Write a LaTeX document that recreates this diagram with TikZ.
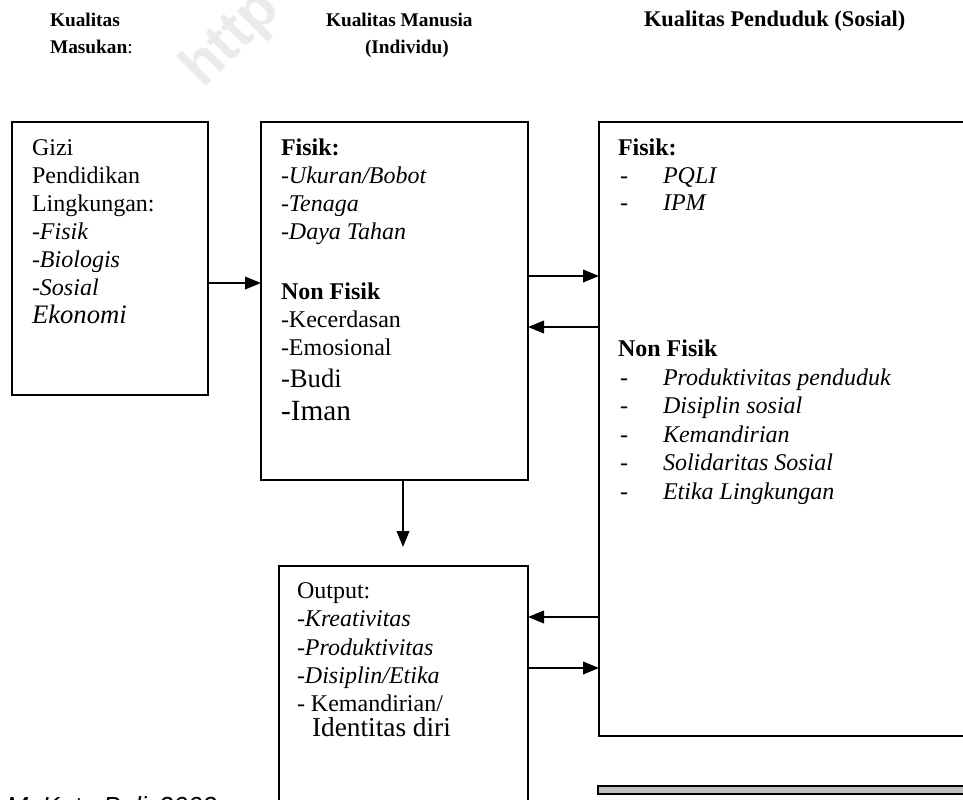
\documentclass[tikz,border=0pt]{standalone}
\usepackage{fontspec}
\setmainfont{Liberation Serif}
\newfontfamily\arialf{Liberation Sans}
\usetikzlibrary{arrows.meta}
\begin{document}
\begin{tikzpicture}[x=0.75pt,y=-0.75pt,
  box/.style={draw, line width=1.3pt, inner sep=0pt, outer sep=0pt, anchor=center},
  conn/.style={line width=1.2pt, -{Triangle[length=12pt,width=9.5pt]}},
  txt/.style={anchor=base west, inner sep=0pt, outer sep=0pt, font=\fontsize{18pt}{21pt}\selectfont},
  hdr/.style={anchor=base west, inner sep=0pt, outer sep=0pt, font=\fontsize{14.5pt}{17pt}\selectfont\bfseries},
  big/.style={txt, font=\fontsize{20pt}{23pt}\selectfont},
]
\useasboundingbox (0,0) rectangle (963,799);
\clip (0,0) rectangle (963,799);

% watermark
\node[anchor=base west, inner sep=0pt, rotate=45, text=black!8,
      font=\arialf\bfseries\fontsize{44pt}{50pt}\selectfont] (wm) at (203,90) {http};

% headers
\node[hdr] (h1a) at (50,26.5) {Kualitas};
\node[hdr] (h1b) at (50,54) {Masukan\textmd{:}};
\node[hdr] (h2a) at (326,26.5) {Kualitas Manusia};
\node[hdr] (h2b) at (365,54) {(Individu)};
\node[hdr, font=\fontsize{16.8pt}{19pt}\selectfont\bfseries] (h3) at (644,27) {Kualitas Penduduk (Sosial)};

% boxes
\node[box, minimum width=147pt, minimum height=204.75pt] (b1) at (110,258.5) {};
\node[box, minimum width=200.25pt, minimum height=268.5pt] (b2) at (394.5,301) {};
\node[box, minimum width=300.75pt, minimum height=460.5pt] (b3) at (799.5,429) {};
\node[box, minimum width=186.75pt, minimum height=205.5pt] (b4) at (403.5,703) {};
\node[box, line width=1.1pt, fill=black!25, minimum width=301.5pt, minimum height=6pt] (bar) at (799,790) {};

% box 1 text
\node[txt] (t1a) at (32,155) {Gizi};
\node[txt] (t1b) at (32,183) {Pendidikan};
\node[txt] (t1c) at (32,211) {Lingkungan:};
\node[txt] (t1d) at (32,239.5) {\textit{-Fisik}};
\node[txt] (t1e) at (32,267.5) {\textit{-Biologis}};
\node[txt] (t1f) at (32,295) {\textit{-Sosial}};
\node[big] (t1g) at (32,323) {\textit{Ekonomi}};

% box 2 text
\node[txt] (t2a) at (281,155) {\textbf{Fisik:}};
\node[txt] (t2b) at (281,183) {-\textit{Ukuran/Bobot}};
\node[txt] (t2c) at (281,211) {-\textit{Tenaga}};
\node[txt] (t2d) at (281,239) {-\textit{Daya Tahan}};
\node[txt] (t2e) at (281,299) {\textbf{Non Fisik}};
\node[txt] (t2f) at (281,327) {-Kecerdasan};
\node[txt] (t2g) at (281,355.5) {-Emosional};
\node[big] (t2h) at (281,387) {-Budi};
\node[txt, font=\fontsize{22pt}{25pt}\selectfont] (t2i) at (281,420.5) {-Iman};

% box 3 text
\node[txt] (t3a) at (618,155) {\textbf{Fisik:}};
\node[txt] (t3b1) at (620,183) {-};
\node[txt] (t3b2) at (663,183) {\textit{PQLI}};
\node[txt] (t3c1) at (620,210.5) {-};
\node[txt] (t3c2) at (663,210.5) {\textit{IPM}};
\node[txt] (t3d) at (618,356.5) {\textbf{Non Fisik}};
\node[txt] (t3e1) at (620,385) {-};
\node[txt] (t3e2) at (663,385) {\textit{Produktivitas penduduk}};
\node[txt] (t3f1) at (620,413) {-};
\node[txt] (t3f2) at (663,413) {\textit{Disiplin sosial}};
\node[txt] (t3g1) at (620,442) {-};
\node[txt] (t3g2) at (663,442) {\textit{Kemandirian}};
\node[txt] (t3h1) at (620,470.5) {-};
\node[txt] (t3h2) at (663,470.5) {\textit{Solidaritas Sosial}};
\node[txt] (t3i1) at (620,499) {-};
\node[txt] (t3i2) at (663,499) {\textit{Etika Lingkungan}};

% box 4 text
\node[txt] (t4a) at (297,598.3) {Output:};
\node[txt] (t4b) at (297,626.7) {-\textit{Kreativitas}};
\node[txt] (t4c) at (297,655) {-\textit{Produktivitas}};
\node[txt] (t4d) at (297,683.3) {-\textit{Disiplin/Etika}};
\node[txt] (t4e) at (297,711.7) {- Kemandirian/};
\node[txt, font=\fontsize{20.5pt}{24pt}\selectfont] (t4f) at (312,736.7) {Identitas diri};

% source line (cut off by the bottom edge)
\node[anchor=base west, inner sep=0pt, font=\arialf\itshape\fontsize{19.6pt}{22pt}\selectfont] (src) at (6,815)
  {M\hspace{10.5pt}Kota Bali\hspace{9pt}2002};

% connectors
\coordinate (y1) at (0,283);
\coordinate (y2) at (0,276);
\coordinate (y3) at (0,327);
\coordinate (y5) at (0,617);
\coordinate (y6) at (0,668);
\coordinate (dtip) at (403,547);
\draw[conn] (b1.east |- y1) -- (b2.west |- y1);
\draw[conn] (b2.east |- y2) -- (b3.west |- y2);
\draw[conn] (b3.west |- y3) -- (b2.east |- y3);
\draw[conn] (b2.south -| dtip) -- (dtip);
\draw[conn] (b3.west |- y5) -- (b4.east |- y5);
\draw[conn] (b4.east |- y6) -- (b3.west |- y6);
\end{tikzpicture}
\end{document}
